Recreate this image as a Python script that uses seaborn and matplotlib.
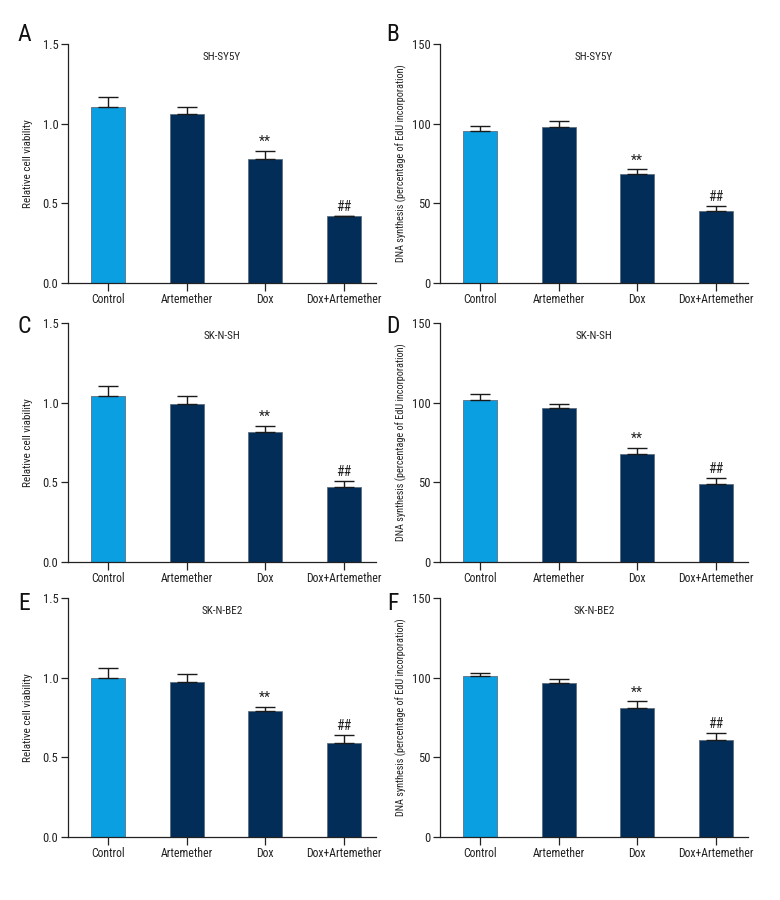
import matplotlib
matplotlib.use("Agg")
import matplotlib.pyplot as plt
import seaborn as sns
import pandas as pd
import numpy as np
from matplotlib.ticker import FormatStrFormatter

sns.set_theme(style="ticks")
plt.rcParams['font.family'] = ['Roboto Condensed', 'Archivo Narrow', 'Barlow Semi Condensed', 'DejaVu Sans']

categories = ["Control", "Artemether", "Dox", "Dox+Artemether"]
cell_lines = ["SH-SY5Y", "SK-N-SH", "SK-N-BE2"]
panel_letters = ["A", "B", "C", "D", "E", "F"]
marks = ["", "", "**", "##"]

via_means = [[1.105, 1.059, 0.776, 0.418],
             [1.042, 0.992, 0.816, 0.469],
             [1.000, 0.973, 0.789, 0.588]]
via_errs = [[0.065, 0.046, 0.054, 0.005],
            [0.063, 0.048, 0.038, 0.037],
            [0.059, 0.050, 0.027, 0.054]]
edu_means = [[95.2, 97.9, 68.2, 45.4],
             [101.9, 96.7, 68.0, 48.7],
             [101.0, 96.4, 81.2, 60.9]]
edu_errs = [[3.1, 4.0, 3.1, 2.9],
            [3.3, 2.5, 3.5, 3.8],
            [1.7, 2.6, 3.9, 4.4]]

palette = ["#0A9FE0", "#022D59", "#022D59", "#022D59"]

fig = plt.figure(figsize=(7.8, 9), dpi=100)
W, H = 780, 900
lefts = [68, 440]
tops = [44, 323, 598]
letter_y = [1.04, 0.985, 0.975]
aw, ah = 308, 239

def panel(ax, means, errs, ymax, ystep, fmt, ylabel, ylsize, ylx, title, letter, ly, lx):
    df = pd.DataFrame({"cat": categories, "val": means})
    sns.barplot(data=df, x="cat", y="val", hue="cat", palette=palette,
                width=0.43, edgecolor="#5d6f80", linewidth=0.6, saturation=1,
                legend=False, ax=ax, errorbar=None)
    x = np.arange(len(categories))
    ax.errorbar(x, means, yerr=[np.zeros(len(errs)), errs], fmt="none",
                ecolor="#1a1a1a", elinewidth=1.0, capsize=7, capthick=1.0, zorder=1)
    for xi, m, e, t in zip(x, means, errs, marks):
        if t:
            ax.text(xi, m + e + ymax * 0.008, t, ha="center", va="bottom",
                    fontsize=10, color="#222222")
    ax.set_xlim(-0.51, 3.41)
    ax.set_ylim(0, ymax)
    ax.set_yticks(np.arange(0, ymax + ystep / 2, ystep))
    ax.yaxis.set_major_formatter(FormatStrFormatter(fmt))
    ax.set_xlabel("")
    ax.set_ylabel(ylabel, fontsize=ylsize, color="#222222")
    ax.yaxis.set_label_coords(ylx, 0.5)
    ax.tick_params(axis="both", labelsize=8.5, colors="#222222", length=5, width=0.9, direction="out")
    ax.tick_params(axis="y", labelsize=9, pad=2)
    ax.tick_params(axis="x", length=6, pad=1.5)
    for s in ["top", "right"]:
        ax.spines[s].set_visible(False)
    for s in ["left", "bottom"]:
        ax.spines[s].set_color("#222222")
        ax.spines[s].set_linewidth(0.9)
    ax.text(0.5, 0.946, title, transform=ax.transAxes, ha="center", va="center",
            fontsize=8, color="#222222")
    ax.text(lx, ly, letter, transform=ax.transAxes,
            ha="center", va="center", fontsize=17, color="#111111")

for r in range(3):
    for c in range(2):
        l = lefts[c]
        t = tops[r]
        ax = fig.add_axes([l / W, 1 - (t + ah) / H, aw / W, ah / H])
        ax.set_facecolor("white")
        if c == 0:
            panel(ax, via_means[r], via_errs[r], 1.5, 0.5, "%.1f",
                  "Relative cell viability", 8, -0.114, cell_lines[r], panel_letters[r * 2],
                  letter_y[r], -0.143)
        else:
            panel(ax, edu_means[r], edu_errs[r], 150, 50, "%d",
                  "DNA synthesis (percentage of EdU incorporation)", 7.4, -0.107, cell_lines[r],
                  panel_letters[r * 2 + 1], letter_y[r], -0.152)

fig.savefig("out.png", dpi=100, facecolor="white")
